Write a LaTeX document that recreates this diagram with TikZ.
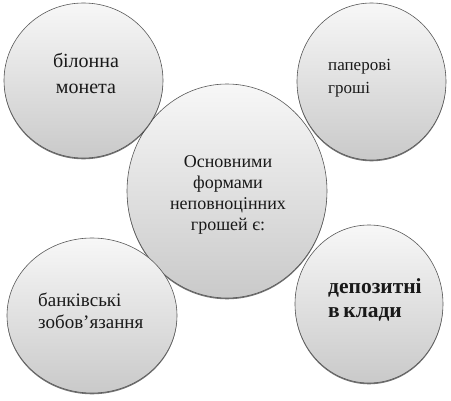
\documentclass[tikz,border=0pt]{standalone}
\usepackage{fontspec}
\setmainfont{Liberation Serif}
\usetikzlibrary{shapes.geometric,shadows}
\begin{document}
\begin{tikzpicture}[x=1pt,y=1pt,
  blob/.style={ellipse,inner sep=0pt,outer sep=0pt,draw=black!65,line width=0.6pt,
    top color=black!3,bottom color=black!21,
    drop shadow={shadow xshift=0pt,shadow yshift=-1.3pt,fill=black,opacity=0.55}},
  lbl/.style={inner sep=0pt,text=black!90}]
\useasboundingbox (0,0) rectangle (451,400);
\fill[white] (0,0) rectangle (451,400);
\node[blob,minimum width=200pt,minimum height=214pt] (c) at (227,209) {};
\node[blob,minimum width=159pt,minimum height=155pt] (tl) at (83.5,319.5) {};
\node[blob,minimum width=149pt,minimum height=157pt] (tr) at (371.5,318.5) {};
\node[blob,minimum width=170pt,minimum height=155pt] (bl) at (92,84.5) {};
\node[blob,minimum width=148pt,minimum height=158pt] (br) at (369,96) {};
\node[lbl,align=center,font=\fontsize{20}{26}\selectfont] (ttl) at (86,327) {білонна\\монета};
\node[lbl,align=left,anchor=west,font=\fontsize{17}{23}\selectfont] (ttr) at (328,321.5) {паперові\\гроші};
\node[lbl,align=center,font=\fontsize{18}{21}\selectfont] (tc) at (228,205) {Основними\\формами\\неповноцінних\\грошей є:};
\node[lbl,align=left,anchor=west,font=\fontsize{19}{22}\selectfont] (tbl) at (38,89.5) {банківські\\зобов'язання};
\node[lbl,align=left,anchor=west,font=\bfseries\fontsize{21.5}{24}\selectfont] (tbr) at (328,100) {депозитні\\в\,клади};
\end{tikzpicture}
\end{document}
